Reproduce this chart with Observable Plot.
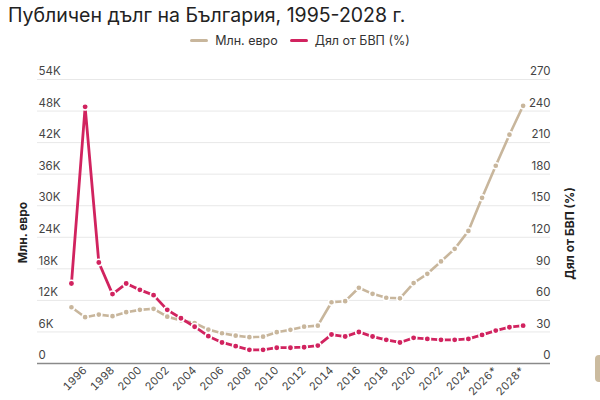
<!DOCTYPE html>
<html>
<head>
<meta charset="utf-8">
<script src="https://cdn.jsdelivr.net/npm/d3@7"></script>
<script src="https://cdn.jsdelivr.net/npm/@observablehq/plot@0.6"></script>
<style>
  html, body { margin: 0; padding: 0; background: #fff; }
  body { width: 600px; height: 400px; overflow: hidden; position: relative; font-family: Inter, "Noto Sans", sans-serif; }
  #title { height: 30px; padding-left: 8px; font-size: 19.5px; line-height: 31px; color: #222; white-space: nowrap; }
  #legend { height: 20px; display: flex; justify-content: center; align-items: center; font-size: 12.5px; color: #333; padding-left: 0; }
  .item { display: flex; align-items: center; margin: 0 6px; }
  .sw { width: 18px; height: 3px; border-radius: 2px; margin-right: 7px; }
  #tab { position: absolute; left: 595px; top: 355px; width: 12px; height: 27px; border-radius: 4px; background: #cbbb9f; }
</style>
</head>
<body>
<div id="title">Публичен дълг на България, 1995-2028 г.</div>
<div id="legend"></div>
<div id="chart"></div>
<div id="tab"></div>
<script>
const years = [1995,1996,1997,1998,1999,2000,2001,2002,2003,2004,2005,2006,2007,2008,2009,2010,2011,2012,2013,2014,2015,2016,2017,2018,2019,2020,2021,2022,2023,2024,2025,2026,2027,2028];
const debtEur = [10700,8800,9300,9000,9750,10200,10400,8900,8200,7700,6450,5750,5300,5000,5100,5950,6400,7000,7200,11650,11850,14400,13250,12500,12400,15300,17050,19400,21800,25200,31500,37600,43500,49000];
const debtPct = [76,244,96,66,76,70,65,51,43,35,26,20,16.5,13,13,15,15,15.5,17,27.5,25.6,30,25.6,22.5,20,24.4,23.4,22.5,22.5,23.4,27.2,31.3,34.5,36];
const leftTicks = [0,6000,12000,18000,24000,30000,36000,42000,48000,54000];
const rightTicks = [0,30,60,90,120,150,180,210,240,270];
const xTicks = [1996,1998,2000,2002,2004,2006,2008,2010,2012,2014,2016,2018,2020,2022,2024,2026,2028];
const forecastFrom = 2026;
const seriesNames = ["Млн. евро", "Дял от БВП (%)"];
const colors = ["#c8b69c", "#d1235f"];
const pctFactor = 54000 / 270;

const rows = years.map((y, i) => ({year: y, eur: debtEur[i], pct: debtPct[i]}));

const legend = document.getElementById("legend");
seriesNames.forEach((n, i) => {
  const it = document.createElement("div");
  it.className = "item";
  it.innerHTML = `<span class="sw" style="background:${colors[i]}"></span><span>${n}</span>`;
  legend.appendChild(it);
});

const tickFont = 11.5;
const chart = Plot.plot({
  width: 600,
  height: 350,
  marginLeft: 37,
  marginRight: 50,
  marginTop: 29,
  marginBottom: 37,
  style: {fontFamily: "Inter, 'Noto Sans', sans-serif", color: "#444", background: "transparent", overflow: "visible"},
  x: {domain: [1992.52, 2030], axis: null},
  y: {domain: [0, 54000], axis: null},
  marks: [
    Plot.ruleY(leftTicks.filter(d => d > 0), {stroke: "#e8e8e8", strokeWidth: 1}),
    Plot.ruleY([0], {stroke: "#8a8a8a", strokeWidth: 1.5}),
    Plot.text(leftTicks, {y: d => d, text: d => d === 0 ? "0" : (d / 1000) + "K", frameAnchor: "left", textAnchor: "start", dx: 1, dy: -8, fontSize: tickFont, fill: "#444"}),
    Plot.text(rightTicks, {y: d => d * pctFactor, text: d => String(d), frameAnchor: "right", textAnchor: "end", dy: -8, fontSize: tickFont, fill: "#444"}),
    Plot.text([seriesNames[0]], {text: d => d, frameAnchor: "left", textAnchor: "middle", rotate: -90, dx: -14, dy: 11, fontSize: 12, fontWeight: "bold", fill: "#222"}),
    Plot.text([seriesNames[1]], {text: d => d, frameAnchor: "right", textAnchor: "middle", rotate: -90, dx: 20, dy: 12, fontSize: 12, fontWeight: "bold", fill: "#222"}),
    Plot.axisX({ticks: xTicks, tickFormat: d => d >= forecastFrom ? d + "*" : String(d), tickRotate: -45, tickSize: 0, tickPadding: 5, fontSize: 11, label: null}),
    Plot.line(rows, {x: "year", y: "eur", stroke: colors[0], strokeWidth: 2.6}),
    Plot.dot(rows, {x: "year", y: "eur", r: 3.1, fill: colors[0], stroke: "#fff", strokeWidth: 1.5}),
    Plot.line(rows, {x: "year", y: d => d.pct * pctFactor, stroke: colors[1], strokeWidth: 2.8}),
    Plot.dot(rows, {x: "year", y: d => d.pct * pctFactor, r: 3.2, fill: colors[1], stroke: "#fff", strokeWidth: 1.5})
  ]
});
document.getElementById("chart").appendChild(chart);
</script>
</body>
</html>
